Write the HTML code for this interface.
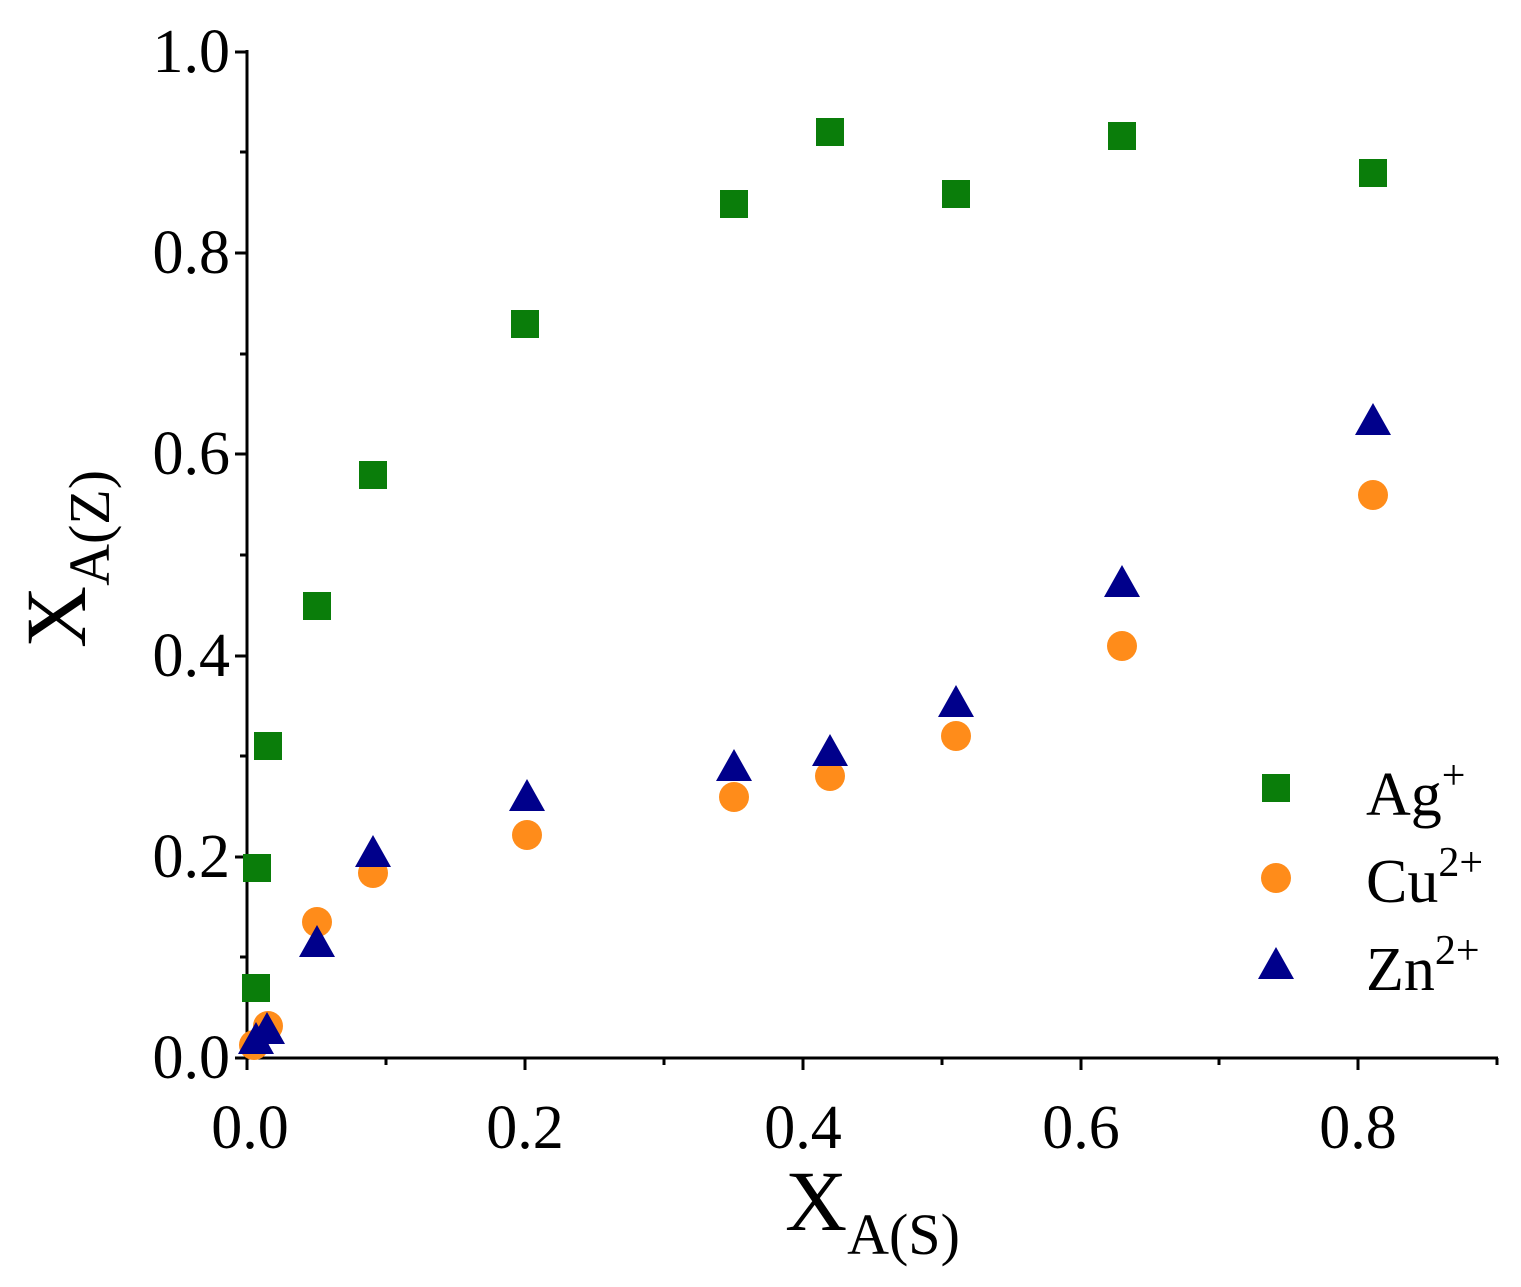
<!DOCTYPE html>
<html><head><style>body{margin:0;background:#fff}</style></head><body>
<svg width="1521" height="1282" xmlns="http://www.w3.org/2000/svg" font-family="Liberation Serif, serif">
<g stroke="#000" stroke-width="3" fill="none">
<line x1="247" y1="50" x2="247" y2="1060"/>
<line x1="245" y1="1058" x2="1498" y2="1058"/>
<path d="M247 1058v12M525 1058v12M803 1058v12M1081 1058v12M1358 1058v12M386 1058v7M664 1058v7M942 1058v7M1219 1058v7M1497 1058v7"/>
<path d="M247 1058h-12M247 857h-12M247 656h-12M247 454h-12M247 253h-12M247 52h-12M247 957h-7M247 756h-7M247 555h-7M247 354h-7M247 152h-7"/>
</g>
<g font-size="62" text-anchor="end">
<text x="230" y="1078">0.0</text><text x="230" y="877">0.2</text><text x="230" y="676">0.4</text><text x="230" y="474">0.6</text><text x="230" y="273">0.8</text><text x="230" y="72">1.0</text>
</g>
<g font-size="62" text-anchor="middle">
<text x="250" y="1148">0.0</text><text x="525" y="1148">0.2</text><text x="803" y="1148">0.4</text><text x="1081" y="1148">0.6</text><text x="1358" y="1148">0.8</text>
</g>
<text x="785" y="1230" font-size="86">X<tspan font-size="58" dy="24">A(S)</tspan></text>
<text transform="translate(85,648) rotate(-90)" font-size="86">X<tspan font-size="58" dy="24">A(Z)</tspan></text>
<g fill="#0a7d0a">
<rect x="242" y="974" width="28" height="28"/><rect x="243" y="854" width="28" height="28"/><rect x="254" y="732" width="28" height="28"/><rect x="303" y="592" width="28" height="28"/><rect x="359" y="461" width="28" height="28"/><rect x="511" y="310" width="28" height="28"/><rect x="720" y="190" width="28" height="28"/><rect x="816" y="118" width="28" height="28"/><rect x="942" y="180" width="28" height="28"/><rect x="1108" y="122" width="28" height="28"/><rect x="1359" y="159" width="28" height="28"/>
<rect x="1262" y="774" width="28" height="28"/>
</g>
<g fill="#ff8c1a">
<circle cx="254" cy="1045" r="15"/><circle cx="268" cy="1026" r="15"/><circle cx="317" cy="922" r="15"/><circle cx="373" cy="873" r="15"/><circle cx="527" cy="835" r="15"/><circle cx="734" cy="797" r="15"/><circle cx="830" cy="776" r="15"/><circle cx="956" cy="736" r="15"/><circle cx="1122" cy="646" r="15"/><circle cx="1373" cy="495" r="15"/><circle cx="1276" cy="878" r="15"/>
</g>
<g fill="#00008b">
<path d="M256 1022l18 32h-36z"/><path d="M267 1012l18 32h-36z"/><path d="M317 925l18 32h-36z"/><path d="M373 835l18 32h-36z"/><path d="M527 779l18 32h-36z"/><path d="M734 749l18 32h-36z"/><path d="M830 734l18 32h-36z"/><path d="M956 685l18 32h-36z"/><path d="M1122 565l18 32h-36z"/><path d="M1373 403l18 32h-36z"/><path d="M1276 947l18 32h-36z"/>
</g>
<g font-size="62">
<text x="1366" y="815">Ag<tspan font-size="42" dy="-26">+</tspan></text>
<text x="1366" y="902">Cu<tspan font-size="42" dy="-26">2+</tspan></text>
<text x="1366" y="990">Zn<tspan font-size="42" dy="-26">2+</tspan></text>
</g>
</svg>
</body></html>
